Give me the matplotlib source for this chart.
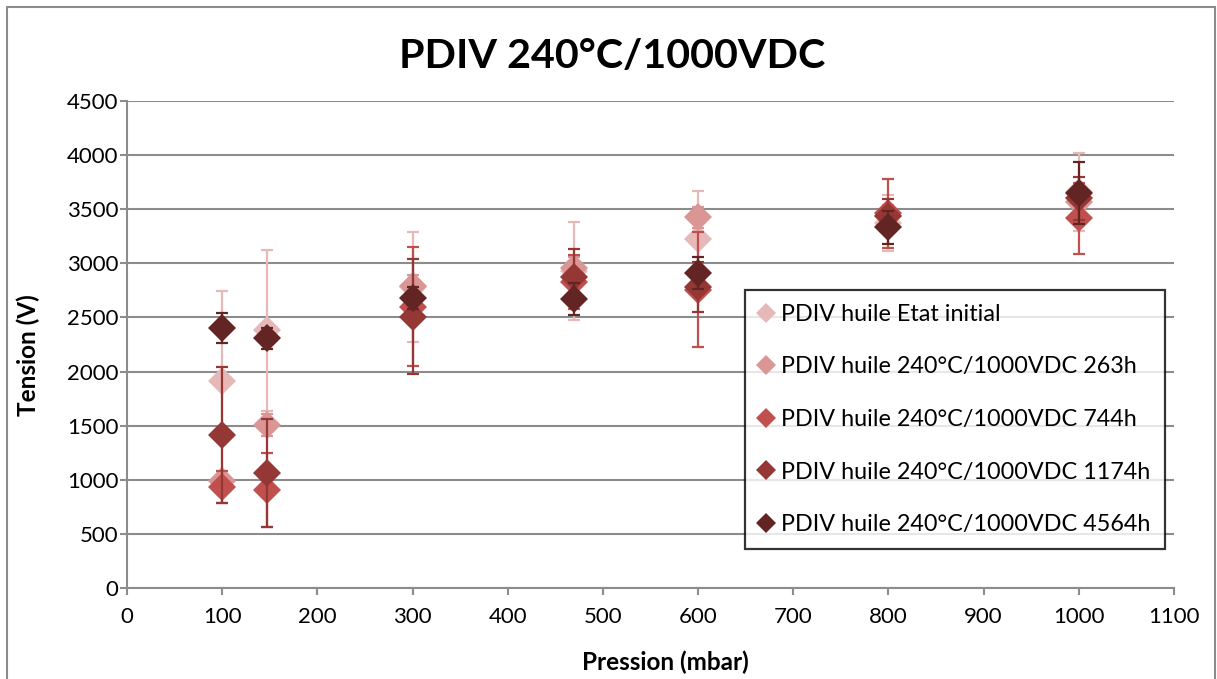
import matplotlib
matplotlib.use("Agg")
import matplotlib.pyplot as plt
import matplotlib.patches as patches
from matplotlib.lines import Line2D

plt.rcParams['font.family'] = ['Lato', 'DejaVu Sans']

# Pressure (mbar) of each measurement
pressure = [100, 147, 300, 470, 600, 800, 1000]

# PDIV (V) per ageing state, with error bar half-widths
series_names = ["PDIV huile Etat initial",
                "PDIV huile 240°C/1000VDC 263h",
                "PDIV huile 240°C/1000VDC 744h",
                "PDIV huile 240°C/1000VDC 1174h",
                "PDIV huile 240°C/1000VDC 4564h"]
pdiv_initial = [1910, 2380, 2780, 2930, 3225, 3370, 3660]
err_initial = [830, 740, 510, 450, 446, 260, 360]
pdiv_263h = [990, 1505, 2790, 2955, 3425, 3440, 3570]
err_263h = [60, 100, 100, 100, 100, 100, 100]
pdiv_744h = [935, 905, 2600, 2830, 2755, 3462, 3416]
err_744h = [150, 340, 550, 250, 530, 317, 330]
pdiv_1174h = [1414, 1060, 2507, 2871, 2780, 3440, 3600]
err_1174h = [630, 500, 530, 260, 230, 150, 200]
pdiv_4564h = [2400, 2307, 2677, 2668, 2914, 3333, 3653]
err_4564h = [140, 100, 100, 150, 147, 150, 287]

colors = ['#E6B9B8', '#D99694', '#C0504D', '#953735', '#632523']
all_values = [pdiv_initial, pdiv_263h, pdiv_744h, pdiv_1174h, pdiv_4564h]
all_errors = [err_initial, err_263h, err_744h, err_1174h, err_4564h]

fig = plt.figure(figsize=(12.17, 6.79), dpi=100)
ax = fig.add_axes([127/1217, 1 - 588/679, (1174-127)/1217, (588-101)/679])

# outer chart border
fig.add_artist(patches.Rectangle((7/1217, -0.05), (1215-7)/1217, 1.05 - 7/679,
                                 transform=fig.transFigure, fill=False,
                                 edgecolor='#8c8c8c', linewidth=1.5))

grid_c = '#8c8c8c'
handles = []
for i, (name, vals, errs, c) in enumerate(zip(series_names, all_values, all_errors, colors)):
    line, caps, bars = ax.errorbar(pressure, vals, yerr=errs, fmt='D', color=c, ecolor=c,
                                   markersize=14.5, elinewidth=1.6,
                                   capsize=4.5, capthick=1.6, zorder=3 + i)
    line.set_markeredgewidth(0)
    handles.append(Line2D([], [], linestyle='none', marker='D', markersize=10,
                          markeredgewidth=0, color=c, label=name))

ax.set_xlim(0, 1100)
ax.set_ylim(0, 4500)
ax.set_xticks(range(0, 1101, 100))
ax.set_yticks(range(0, 4501, 500))
ax.yaxis.grid(True, color=grid_c, linewidth=1.5)
ax.set_axisbelow(True)
for s in ['top', 'right']:
    ax.spines[s].set_visible(False)
for s in ['left', 'bottom']:
    ax.spines[s].set_color(grid_c)
    ax.spines[s].set_linewidth(1.5)
ax.tick_params(axis='both', colors=grid_c, labelcolor='black', labelsize=16,
               length=5, width=1.5, direction='out')
ax.tick_params(axis='x', pad=9)
ax.tick_params(axis='y', pad=1)

ax.set_xlabel("Pression (mbar)", fontsize=17.5, fontweight='bold')
ax.set_ylabel("Tension (V)", fontsize=17.5, fontweight='bold')
ax.xaxis.set_label_coords((665-127)/1047, -(662-588)/487)
ax.yaxis.set_label_coords(-(127-28)/1047, (588-355)/487)
ax.xaxis.label.set_va('center')
ax.yaxis.label.set_va('center')
fig.text(612/1217, 1 - 57/679, "PDIV 240°C/1000VDC", ha='center', va='center',
         fontsize=29.7, fontweight='bold')

leg = ax.legend(handles=handles, loc='upper left',
                bbox_to_anchor=((745-127)/1047, (588-290)/487),
                fontsize=16.8, frameon=True, fancybox=False,
                handlelength=0.6, handletextpad=0.35, labelspacing=1.35,
                borderpad=0.6, borderaxespad=0)
leg.get_frame().set_edgecolor('black')
leg.get_frame().set_linewidth(1.6)

fig.savefig("out.png", dpi=100)
